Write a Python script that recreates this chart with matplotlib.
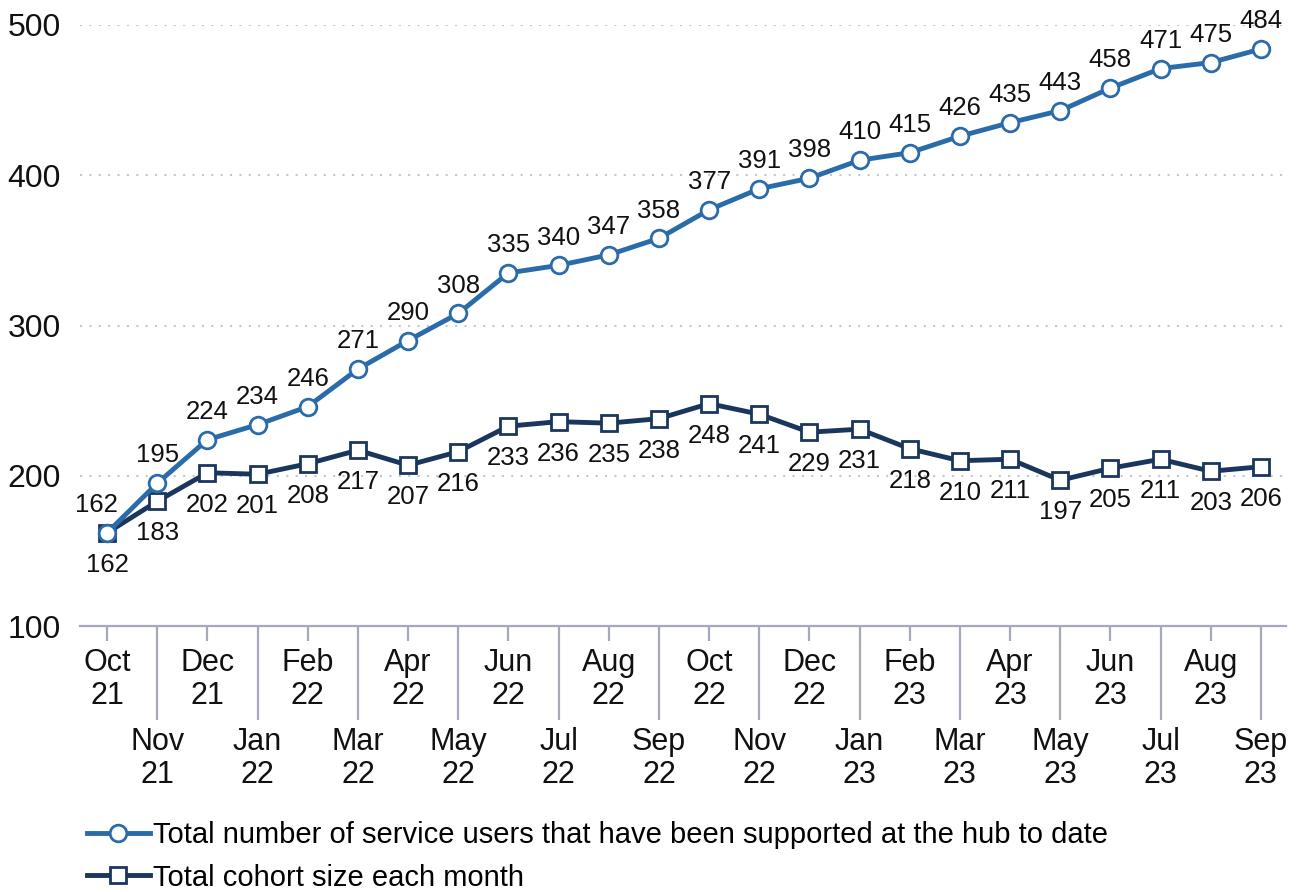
import matplotlib
matplotlib.use("Agg")
import matplotlib.pyplot as plt
import numpy as np

plt.rcParams['font.family'] = ['Liberation Sans', 'DejaVu Sans']

months = ["Oct\n21", "Nov\n21", "Dec\n21", "Jan\n22", "Feb\n22", "Mar\n22", "Apr\n22", "May\n22",
          "Jun\n22", "Jul\n22", "Aug\n22", "Sep\n22", "Oct\n22", "Nov\n22", "Dec\n22", "Jan\n23",
          "Feb\n23", "Mar\n23", "Apr\n23", "May\n23", "Jun\n23", "Jul\n23", "Aug\n23", "Sep\n23"]
supported = [162, 195, 224, 234, 246, 271, 290, 308, 335, 340, 347, 358, 377, 391, 398, 410,
             415, 426, 435, 443, 458, 471, 475, 484]
cohort = [162, 183, 202, 201, 208, 217, 207, 216, 233, 236, 235, 238, 248, 241, 229, 231,
          218, 210, 211, 197, 205, 211, 203, 206]
yticks = [100, 200, 300, 400, 500]

BLUE = "#2A6BAA"
NAVY = "#1B365D"
GRID = "#C4C6D6"
AX = "#A6A9BC"

fig = plt.figure(figsize=(13.02, 8.92), dpi=100)
ax = fig.add_axes([80/1302, 1-626/892, (1286-80)/1302, (626-25)/892])

x = np.arange(len(months))
ax.plot(x, supported, color=BLUE, lw=3.5, marker='o', ms=12, mfc='white', mec=BLUE, mew=2,
        label="Total number of service users that have been supported at the hub to date", zorder=4)
ax.plot(x, cohort, color=NAVY, lw=3.5, marker='s', ms=11, mfc='white', mec=NAVY, mew=2,
        label="Total cohort size each month", zorder=3)

for i, v in enumerate(supported):
    dx = -8 if i == 0 else 0
    ax.annotate(str(v), (x[i], v), xytext=(dx, 20), textcoords='offset points',
                ha='center', va='center', fontsize=18.5, color='#111111', annotation_clip=False)
for i, v in enumerate(cohort):
    ax.annotate(str(v), (x[i], v), xytext=(0, -23), textcoords='offset points',
                ha='center', va='center', fontsize=18.5, color='#111111', annotation_clip=False)

ax.set_xlim(-0.54, 23.5)
ax.set_ylim(100, 500)
ax.set_yticks(yticks)
ax.tick_params(axis='y', length=0, pad=14, labelsize=23, labelcolor='#111111')
for yv in yticks[1:]:
    ax.axhline(yv, color=GRID, lw=1.5, ls=(0, (1, 3.5)), zorder=1)

for s in ['top', 'right', 'left']:
    ax.spines[s].set_visible(False)
ax.spines['bottom'].set_color(AX)
ax.spines['bottom'].set_linewidth(1.6)

ax.set_xticks(x[0::2])
ax.set_xticklabels(months[0::2])
ax.set_xticks(x[1::2], minor=True)
ax.set_xticklabels(months[1::2], minor=True)
ax.tick_params(axis='x', which='major', length=11, width=1.6, color=AX, pad=5,
               labelsize=22, labelcolor='#111111')
ax.tick_params(axis='x', which='minor', length=68, width=1.6, color=AX, pad=5,
               labelsize=22, labelcolor='#111111')
for lab in ax.get_xticklabels(which='both'):
    lab.set_linespacing(1.13)

fig.legend(loc='upper left', bbox_to_anchor=(87/1302, 1-821/892), frameon=False,
           fontsize=21, handlelength=2.15, handletextpad=0.12, labelspacing=0.5,
           borderaxespad=0, borderpad=0)

fig.savefig("out.png", dpi=100)
